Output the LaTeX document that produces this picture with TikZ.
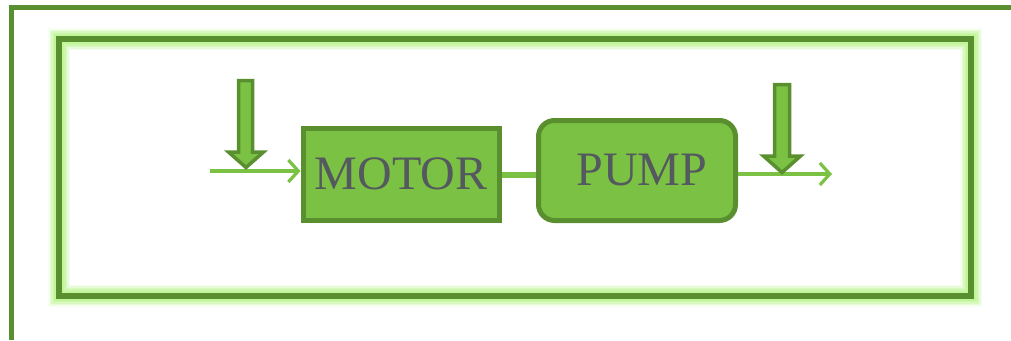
\documentclass[tikz,border=0pt]{standalone}
\usepackage{fontspec}
\setmainfont{Liberation Serif}
\usetikzlibrary{arrows.meta}
\definecolor{dkgreen}{HTML}{5A8F2F}
\definecolor{ltgreen}{HTML}{7BC143}
\definecolor{glowgreen}{HTML}{BFF594}
\definecolor{txtgrey}{HTML}{54585F}
\begin{document}
\begin{tikzpicture}[x=1pt,y=-1pt,
  blockbox/.style={draw=dkgreen, fill=ltgreen, line width=5pt, text=txtgrey,
    font=\fontsize{48}{50}\selectfont, inner sep=0pt},
  flowline/.style={draw=ltgreen, line width=3.2pt,
    -{Straight Barb[length=10pt,width=22pt,line width=3.2pt]}},
  blockarrow/.style={draw=dkgreen, fill=ltgreen, line width=3.5pt, line join=miter},
  frameline/.style={draw=dkgreen, line width=5pt}]
\useasboundingbox (0,0) rectangle (1011,340);
% outer frame
\draw[frameline] (11,340) -- (11,7) -- (1011,7);
% inner frame with soft glow
\foreach \w/\o in {22/0.15, 19/0.25, 16/0.35, 13/0.5, 10/0.7}
  \draw[glowgreen, opacity=\o, line width=\w pt] (59,39) rectangle (971,295.5);
\draw[dkgreen, line width=6pt] (59,39) rectangle (971,295.5);
% blocks
\node[blockbox, minimum width=196pt, minimum height=92pt] (motor) at (401,174) {MOTOR};
\node[blockbox, rounded corners=16pt, minimum width=197pt, minimum height=100pt] (pump) at (637,170.5) {\hspace{10pt}PUMP};
% connectors
\draw[ltgreen, line width=6.5pt] (motor.east |- 0,175) -- (pump.west |- 0,175);
\coordinate (in) at (210,171);
\draw[flowline] (in) -- (motor.west |- in);
\coordinate (out) at (832,174);
\draw[flowline] (pump.east |- out) -- (out);
% block arrows
\draw[blockarrow] (238.5,80.5) -- (252.5,80.5) -- (252.5,152) -- (263.5,152) -- (246,167.5) -- (228.5,152) -- (238.5,152) -- cycle;
\draw[blockarrow] (774.5,84.5) -- (789.5,84.5) -- (789.5,156) -- (800.5,156) -- (782,172.5) -- (763.5,156) -- (774.5,156) -- cycle;
\end{tikzpicture}
\end{document}
